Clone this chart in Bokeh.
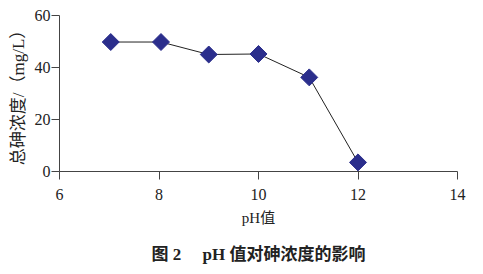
import numpy as np
from bokeh.plotting import figure
from bokeh.models import Title, FixedTicker, Range1d
from bokeh.embed import file_html
from bokeh.resources import INLINE

ph = [7.03, 8.04, 9.0, 10.0, 11.02, 12.0]
arsenic = [49.8, 49.8, 45.0, 45.2, 36.2, 3.5]
x_ticks = [6, 8, 10, 12, 14]
y_ticks = [0, 20, 40, 60]
y_label = "总砷浓度/（mg/L）"
x_label = "pH值"
caption = "图 2\u3000 pH 值对砷浓度的影响"

SERIF = "Liberation Serif, Noto Sans CJK SC"

p = figure(width=483, height=274, output_backend="svg", toolbar_location=None,
           x_range=Range1d(6, 14), y_range=Range1d(0, 60),
           min_border_left=59, min_border_right=26, min_border_top=15, min_border_bottom=102)
p.outline_line_color = None
p.xgrid.grid_line_color = None
p.ygrid.grid_line_color = None

p.line(ph, arsenic, line_color="#222222", line_width=1)
p.scatter(ph, arsenic, marker="square", angle=np.pi / 4, size=12,
          fill_color="#2B2E8C", line_color="#2B2E8C")

for ax in (p.xaxis[0], p.yaxis[0]):
    ax.axis_line_color = "#444444"
    ax.major_tick_line_color = "#444444"
    ax.major_tick_out = 8
    ax.major_tick_in = 0
    ax.minor_tick_line_color = None
    ax.major_label_text_font = SERIF
    ax.major_label_text_font_size = "16px"
    ax.major_label_text_color = "#222222"

p.xaxis.ticker = FixedTicker(ticks=x_ticks)
p.yaxis.ticker = FixedTicker(ticks=y_ticks)
p.xaxis.major_label_standoff = 9
p.yaxis.major_label_standoff = 1

p.yaxis.axis_label = y_label
p.yaxis.axis_label_text_font = SERIF
p.yaxis.axis_label_text_font_size = "17px"
p.yaxis.axis_label_text_font_style = "normal"
p.yaxis.axis_label_text_color = "#222222"
p.yaxis.axis_label_standoff = 4

t1 = Title(text=x_label, align="center", offset=-16, text_font=SERIF,
           text_font_size="15px", text_font_style="normal", text_color="#222222",
           standoff=11)
t2 = Title(text=caption, align="center", offset=-21, text_font=SERIF,
           text_font_size="17px", text_font_style="bold", text_color="#222222",
           standoff=22)
p.add_layout(t1, "below")
p.add_layout(t2, "below")

open("out.html", "w").write(file_html(p, INLINE))
